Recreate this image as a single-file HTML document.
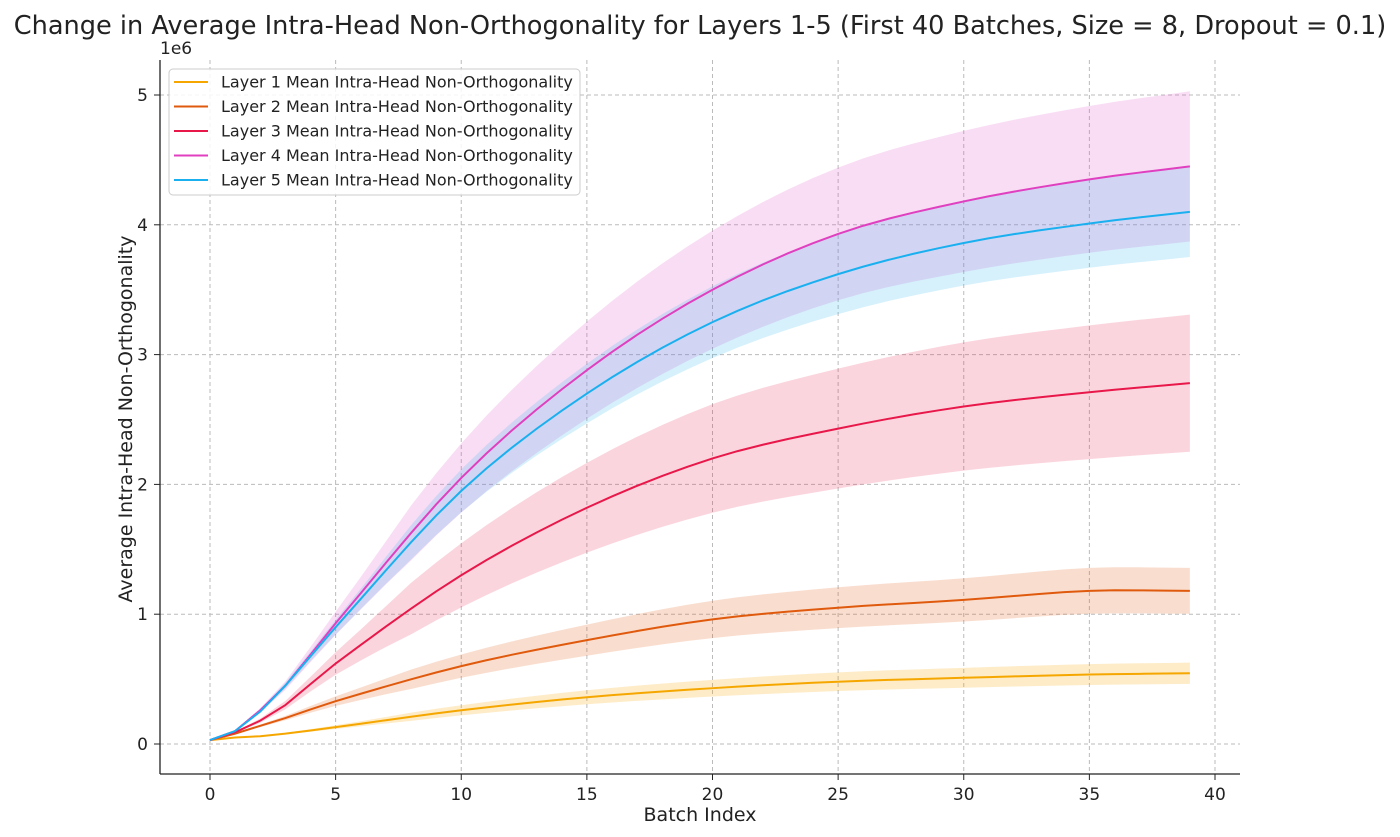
<!DOCTYPE html>
<html><head><meta charset="utf-8"><style>
body{margin:0;background:#fff;width:1400px;height:832px;overflow:hidden}
text{font-family:"DejaVu Sans","Liberation Sans",sans-serif;fill:#222}
</style></head><body>
<svg id="s" width="1400" height="832" xmlns="http://www.w3.org/2000/svg"></svg>
<script>
const s=document.getElementById('s');
const X=v=>210+v*25.125, Y=v=>744-v*129.8;
let h='';
h+=`<text x="700" y="34" font-size="25.6" text-anchor="middle">Change in Average Intra-Head Non-Orthogonality for Layers 1-5 (First 40 Batches, Size = 8, Dropout = 0.1)</text>`;
for(let i=0;i<=40;i+=5){h+=`<line x1="${X(i)}" y1="60" x2="${X(i)}" y2="774" stroke="#bbb" stroke-dasharray="4,3" stroke-width="1"/>`;
h+=`<line x1="${X(i)}" y1="774" x2="${X(i)}" y2="780" stroke="#222"/><text x="${X(i)}" y="800" font-size="17" text-anchor="middle">${i}</text>`;}
for(let j=0;j<=5;j++){h+=`<line x1="160" y1="${Y(j)}" x2="1240" y2="${Y(j)}" stroke="#bbb" stroke-dasharray="4,3" stroke-width="1"/>`;
h+=`<line x1="154" y1="${Y(j)}" x2="160" y2="${Y(j)}" stroke="#222"/><text x="148" y="${Y(j)+6}" font-size="17" text-anchor="end">${j}</text>`;}
const kx=[0,1,2,3,5,10,15,20,25,30,35,39];
const L=[
 {c:'#f5a700',f:0.15,m:[0.03,0.05,0.06,0.08,0.13,0.26,0.36,0.43,0.48,0.51,0.535,0.545],a:0.22},
 {c:'#e05a0e',f:0.15,m:[0.03,0.08,0.14,0.2,0.33,0.6,0.8,0.96,1.05,1.11,1.18,1.18],a:0.2},
 {c:'#e8184a',f:0.19,m:[0.03,0.09,0.18,0.3,0.62,1.3,1.82,2.2,2.43,2.6,2.71,2.78],a:0.18},
 {c:'#e040c0',f:0.13,m:[0.03,0.1,0.26,0.45,0.93,2.05,2.88,3.5,3.93,4.18,4.35,4.45],a:0.18},
 {c:'#1ab0f0',f:0.085,m:[0.03,0.1,0.25,0.45,0.9,1.95,2.7,3.25,3.62,3.86,4.01,4.1],a:0.18}];
function interp(m,x){for(let i=0;i<kx.length-1;i++){if(x<=kx[i+1]){const t=(x-kx[i])/(kx[i+1]-kx[i]);
 const p0=m[Math.max(i-1,0)],p1=m[i],p2=m[i+1],p3=m[Math.min(i+2,m.length-1)];
 const d1=(p2-p0)/((kx[i+1]-kx[Math.max(i-1,0)])||1)*(kx[i+1]-kx[i]);
 const d2=(p3-p1)/((kx[Math.min(i+2,m.length-1)]-kx[i])||1)*(kx[i+1]-kx[i]);
 const t2=t*t,t3=t2*t;return (2*t3-3*t2+1)*p1+(t3-2*t2+t)*d1+(-2*t3+3*t2)*p2+(t3-t2)*d2;}}return m[m.length-1];}
L.forEach(l=>{let up=[],dn=[],ln=[];for(let x=0;x<=39;x++){const v=interp(l.m,x);const g=Math.min(1,x/8);const w=l.f*v*(0.3+0.7*g);
 up.push(`${X(x)},${Y(v+w)}`);dn.unshift(`${X(x)},${Y(v-w)}`);ln.push(`${X(x)},${Y(v)}`);}
 l.ln=ln;h+=`<polygon points="${up.concat(dn).join(' ')}" fill="${l.c}" fill-opacity="${l.a}"/>`;});
L.forEach(l=>{h+=`<polyline points="${l.ln.join(' ')}" fill="none" stroke="${l.c}" stroke-width="2"/>`;});
h+=`<line x1="160" y1="60" x2="160" y2="774" stroke="#222" stroke-width="1.3"/><line x1="160" y1="774" x2="1240" y2="774" stroke="#222" stroke-width="1.3"/>`;
h+=`<text x="160" y="54" font-size="17">1e6</text>`;
h+=`<text x="700" y="821" font-size="19" text-anchor="middle">Batch Index</text>`;
h+=`<text transform="translate(132,419) rotate(-90)" font-size="19" text-anchor="middle">Average Intra-Head Non-Orthogonality</text>`;
h+=`<rect x="169" y="69" width="411" height="126" rx="4" fill="#fff" fill-opacity="0.85" stroke="#ccc"/>`;
L.forEach((l,i)=>{const y=82+i*24.5;h+=`<line x1="174" y1="${y}" x2="208" y2="${y}" stroke="${l.c}" stroke-width="2"/><text x="221" y="${y+5.5}" font-size="16">Layer ${i+1} Mean Intra-Head Non-Orthogonality</text>`;});
s.innerHTML=h;
</script>
</body></html>
